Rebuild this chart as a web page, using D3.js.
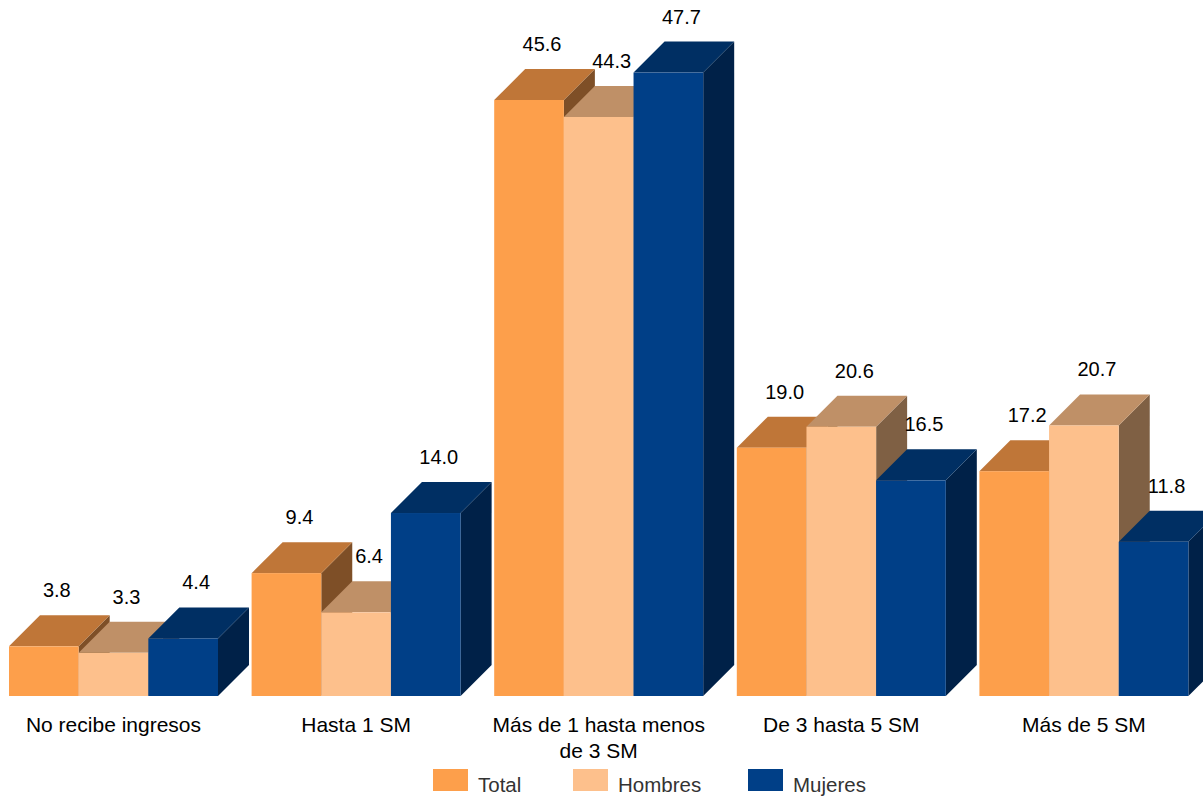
<!DOCTYPE html>
<html><head><meta charset="utf-8">
<script src="https://cdn.jsdelivr.net/npm/d3@7"></script>
<style>body{margin:0;background:#fff}svg{display:block}</style>
</head><body>
<script>
const categories = ["No recibe ingresos", "Hasta 1 SM", "Más de 1 hasta menos de 3 SM", "De 3 hasta 5 SM", "Más de 5 SM"];
const categoryLines = [["No recibe ingresos"], ["Hasta 1 SM"], ["Más de 1 hasta menos", "de 3 SM"], ["De 3 hasta 5 SM"], ["Más de 5 SM"]];
const seriesNames = ["Total", "Hombres", "Mujeres"];
const total = [3.8, 9.4, 45.6, 19.0, 17.2];
const hombres = [3.3, 6.4, 44.3, 20.6, 20.7];
const mujeres = [4.4, 14.0, 47.7, 16.5, 11.8];

const seriesValues = [total, hombres, mujeres];
const colors = {
  Total:   {front: "#FD9F4B", top: "#BF7638", side: "#7E4F27"},
  Hombres: {front: "#FDC08C", top: "#BF9067", side: "#7F6044"},
  Mujeres: {front: "#003F87", top: "#002F63", side: "#002148"}
};

const W = 1203, H = 797;
const svg = d3.select("body").append("svg").attr("width", W).attr("height", H);
const dx = 31, dy = 31;
const FONT = "Liberation Sans, Arial, sans-serif";

const x0 = d3.scaleBand().domain(categories).range([9, 1188.4]).paddingInner(0.1385).paddingOuter(0);
const x1 = d3.scaleBand().domain(seriesNames).range([0, x0.bandwidth()]).padding(0);
const y = d3.scaleLinear().domain([0, 50]).range([696, 696 - 50 * 13.07]);

const g = svg.append("g");
categories.forEach((c, ci) => {
  seriesNames.forEach((s, si) => {
    const v = seriesValues[si][ci];
    const xl = x0(c) + x1(s);
    const xr = xl + x1.bandwidth();
    const yt = y(v), yb = y(0);
    const col = colors[s];
    g.append("path")
      .attr("d", `M${xr},${yt} L${xr + dx},${yt - dy} L${xr + dx},${yb - dy} L${xr},${yb} Z`)
      .attr("fill", col.side);
    g.append("path")
      .attr("d", `M${xl},${yt} L${xl + dx},${yt - dy} L${xr + dx},${yt - dy} L${xr},${yt} Z`)
      .attr("fill", col.top);
    g.append("rect").attr("x", xl).attr("y", yt).attr("width", xr - xl).attr("height", yb - yt)
      .attr("fill", col.front);
  });
});
categories.forEach((c, ci) => {
  seriesNames.forEach((s, si) => {
    const v = seriesValues[si][ci];
    const cx = x0(c) + x1(s) + x1.bandwidth() / 2 + 13;
    g.append("text").attr("x", cx).attr("y", y(v) - dy - 18)
      .attr("text-anchor", "middle")
      .attr("font-family", FONT)
      .attr("font-size", 20).attr("fill", "#000")
      .text(v.toFixed(1));
  });
});
categories.forEach((c, ci) => {
  const t = svg.append("text")
    .attr("x", x0(c) + x0.bandwidth() / 2)
    .attr("y", 732)
    .attr("text-anchor", "middle")
    .attr("font-family", FONT)
    .attr("font-size", 21).attr("fill", "#000");
  categoryLines[ci].forEach((line, li) => {
    t.append("tspan").attr("x", x0(c) + x0.bandwidth() / 2).attr("dy", li === 0 ? 0 : 26).text(line);
  });
});
const legendX = [433, 573, 748];
seriesNames.forEach((s, si) => {
  svg.append("rect").attr("x", legendX[si]).attr("y", 769).attr("width", 35).attr("height", 22)
    .attr("fill", colors[s].front);
  svg.append("text").attr("x", legendX[si] + 45).attr("y", 792)
    .attr("font-family", FONT)
    .attr("font-size", 20.5).attr("fill", "#333")
    .text(s);
});
</script>
</body></html>
